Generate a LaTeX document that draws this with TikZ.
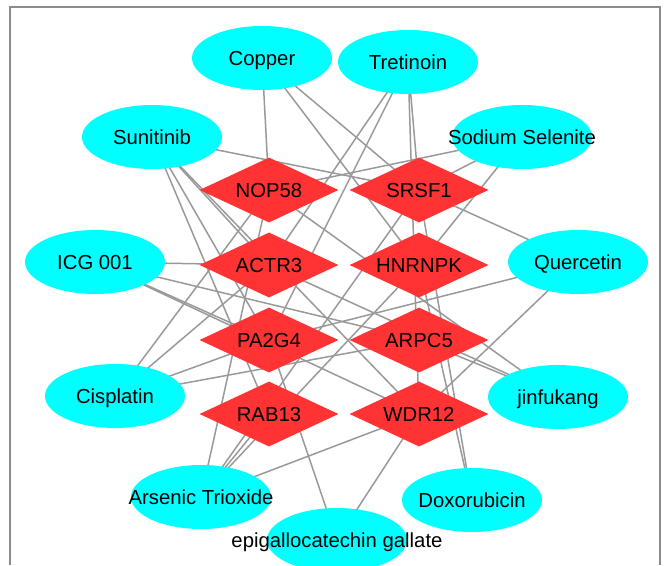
\documentclass[tikz,border=0pt]{standalone}
\usepackage{fontspec}
\setmainfont{Liberation Sans}
\usetikzlibrary{shapes.geometric,backgrounds}
\definecolor{drugfill}{HTML}{00FFFF}
\definecolor{genefill}{HTML}{FF3333}
\definecolor{edgegray}{HTML}{999999}
\definecolor{framegray}{HTML}{8C8C8C}
\begin{document}
\begin{tikzpicture}[x=1pt,y=-1pt,
  lbl/.style={font=\fontsize{20.3}{24}\selectfont, text height=14.5pt, text depth=0pt},
  drug/.style={lbl, ellipse, fill=drugfill, draw=none, minimum width=140pt, minimum height=64pt, inner sep=0pt},
  gene/.style={lbl, diamond, shape aspect=2.14, fill=genefill, draw=none, minimum width=139pt, minimum height=65pt, inner sep=0pt},
  link/.style={draw=edgegray, line width=1.5pt}]
\useasboundingbox (0,0) rectangle (664,565);
\draw[framegray, line width=1.4pt] (10,565) -- (10,7) -- (660,7) -- (660,565);

% target genes
\node[gene] (nop)  at (269,190) {NOP58};
\node[gene] (srsf) at (419,190) {SRSF1};
\node[gene] (actr) at (269,265) {ACTR3};
\node[gene] (hnr)  at (419,265) {HNRNPK};
\node[gene] (pa)   at (269,340) {PA2G4};
\node[gene] (arpc) at (419,340) {ARPC5};
\node[gene] (rab)  at (269,414) {RAB13};
\node[gene] (wdr)  at (419,414) {WDR12};

% drugs
\node[drug] (cu)  at (262,58)  {\makebox[0pt]{Copper}};
\node[drug] (tr)  at (408,62)  {\makebox[0pt]{Tretinoin}};
\node[drug] (su)  at (152,137) {\makebox[0pt]{Sunitinib}};
\node[drug] (ss)  at (522,137) {\makebox[0pt]{Sodium Selenite}};
\node[drug] (icg) at (95,262)  {\makebox[0pt]{ICG 001}};
\node[drug] (q)   at (578,262) {\makebox[0pt]{Quercetin}};
\node[drug] (ci)  at (115,396) {\makebox[0pt]{Cisplatin}};
\node[drug] (jin) at (558,397) {\makebox[0pt]{jinfukang}};
\node[drug] (as)  at (201,497) {\makebox[0pt]{Arsenic Trioxide}};
\node[drug] (dox) at (472,500) {\makebox[0pt]{Doxorubicin}};
\node[drug] (eg)  at (337,540) {\makebox[0pt]{epigallocatechin gallate}};

% drug--target interactions, drawn beneath the nodes
\begin{scope}[on background layer]
\foreach \d/\g in {cu/nop, cu/srsf, cu/hnr,
                   tr/srsf, tr/wdr, tr/actr, tr/pa,
                   su/srsf, su/actr, su/pa, su/rab, su/wdr,
                   ss/nop, ss/srsf, ss/hnr,
                   icg/actr, icg/pa, icg/wdr, icg/arpc,
                   q/srsf, q/pa, q/wdr,
                   ci/nop, ci/actr, ci/pa, ci/arpc,
                   jin/nop, jin/actr, jin/arpc,
                   as/nop, as/rab, as/srsf, as/hnr, as/wdr,
                   dox/srsf, dox/hnr,
                   eg/pa, eg/wdr}
  \draw[link] (\d.center) -- (\g.center);
\end{scope}
\end{tikzpicture}
\end{document}
